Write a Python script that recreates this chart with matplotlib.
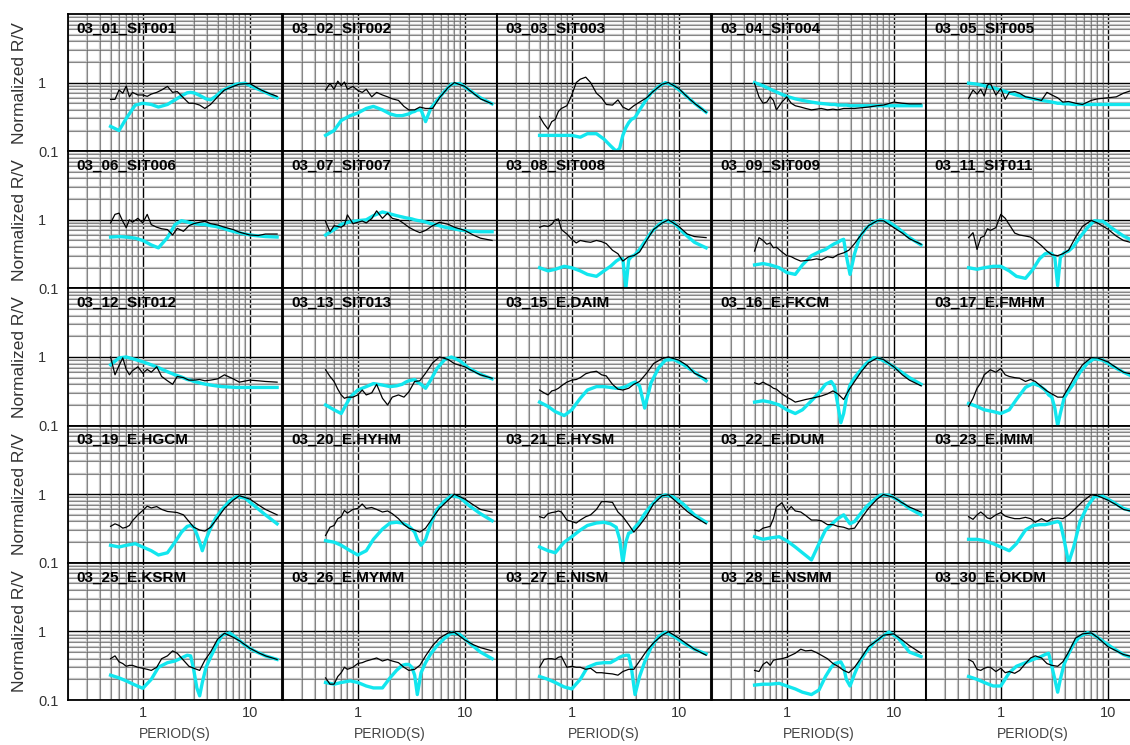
import matplotlib.pyplot as plt
from matplotlib.ticker import NullFormatter

plt.rcParams['font.family'] = ['Liberation Sans', 'DejaVu Sans']

# station names, one panel each (5 per row)
stations = ["03_01_SIT001", "03_02_SIT002", "03_03_SIT003", "03_04_SIT004", "03_05_SIT005",
            "03_06_SIT006", "03_07_SIT007", "03_08_SIT008", "03_09_SIT009", "03_11_SIT011",
            "03_12_SIT012", "03_13_SIT013", "03_15_E.DAIM", "03_16_E.FKCM", "03_17_E.FMHM",
            "03_19_E.HGCM", "03_20_E.HYHM", "03_21_E.HYSM", "03_22_E.IDUM", "03_23_E.IMIM",
            "03_25_E.KSRM", "03_26_E.MYMM", "03_27_E.NISM", "03_28_E.NSMM", "03_30_E.OKDM"]

# periods (s) of the observed R/V (black) and the model R/V (cyan)
period_obs = [0.5, 0.55, 0.6, 0.65, 0.7, 0.75, 0.8, 0.9, 1.0, 1.1, 1.2, 1.35, 1.5, 1.7, 1.9,
              2.1, 2.4, 2.7, 3.0, 3.4, 3.8, 4.3, 5.0, 5.8, 7.0, 8.0, 10, 12, 14, 18]
period_mod = [0.5, 0.6, 0.7, 0.85, 1.0, 1.2, 1.4, 1.7, 2.0, 2.3, 2.6, 2.8, 3.0, 3.2, 3.4,
              3.6, 3.9, 4.3, 4.8, 5.5, 6.5, 7.5, 9, 11, 14, 18]

rv_obs = [
    [0.57, 0.57, 0.78, 0.70, 0.89, 0.62, 0.72, 0.66, 0.66, 0.63, 0.68, 0.72, 0.78, 0.88, 0.72, 0.74, 0.60, 0.50, 0.50, 0.47, 0.42, 0.48, 0.62, 0.78, 0.88, 0.95, 0.97, 0.82, 0.73, 0.63],
    [0.78, 0.97, 0.80, 1.05, 0.90, 1.02, 0.80, 0.88, 0.77, 0.72, 0.80, 0.62, 0.72, 0.66, 0.62, 0.58, 0.55, 0.45, 0.40, 0.40, 0.44, 0.42, 0.42, 0.60, 0.85, 1.00, 0.88, 0.70, 0.58, 0.49],
    [0.32, 0.25, 0.21, 0.27, 0.29, 0.38, 0.42, 0.46, 0.66, 1.00, 1.12, 1.20, 1.00, 0.70, 0.60, 0.48, 0.47, 0.56, 0.44, 0.40, 0.46, 0.52, 0.60, 0.75, 0.95, 1.00, 0.82, 0.62, 0.50, 0.37],
    [0.97, 0.62, 0.50, 0.52, 0.62, 0.55, 0.40, 0.52, 0.62, 0.50, 0.46, 0.44, 0.42, 0.40, 0.41, 0.42, 0.40, 0.41, 0.40, 0.42, 0.42, 0.42, 0.43, 0.44, 0.46, 0.47, 0.52, 0.50, 0.49, 0.49],
    [0.59, 0.78, 0.68, 0.80, 0.64, 0.92, 0.97, 0.66, 0.82, 0.57, 0.72, 0.74, 0.70, 0.62, 0.60, 0.58, 0.55, 0.72, 0.66, 0.60, 0.52, 0.53, 0.50, 0.48, 0.55, 0.58, 0.60, 0.62, 0.70, 0.80],
    [0.90, 1.20, 1.25, 0.95, 0.77, 1.00, 0.92, 1.05, 0.90, 1.20, 0.85, 0.78, 0.74, 0.72, 0.60, 0.75, 0.68, 0.82, 0.88, 0.92, 0.95, 0.88, 0.84, 0.78, 0.72, 0.66, 0.60, 0.59, 0.62, 0.62],
    [0.94, 0.67, 0.82, 0.80, 0.78, 0.84, 1.18, 0.88, 0.92, 0.96, 0.90, 1.04, 1.35, 1.05, 1.25, 1.05, 1.00, 0.88, 0.78, 0.70, 0.65, 0.70, 0.82, 0.92, 0.86, 0.78, 0.70, 0.60, 0.54, 0.50],
    [0.78, 0.82, 0.80, 0.86, 1.00, 1.03, 0.72, 0.62, 0.52, 0.46, 0.50, 0.48, 0.47, 0.50, 0.48, 0.45, 0.36, 0.32, 0.25, 0.29, 0.30, 0.34, 0.50, 0.72, 0.90, 1.00, 0.80, 0.62, 0.57, 0.55],
    [0.35, 0.55, 0.50, 0.44, 0.46, 0.39, 0.40, 0.34, 0.30, 0.29, 0.27, 0.25, 0.255, 0.26, 0.27, 0.26, 0.29, 0.28, 0.31, 0.33, 0.36, 0.45, 0.62, 0.82, 0.97, 0.97, 0.77, 0.64, 0.53, 0.44],
    [0.55, 0.65, 0.37, 0.55, 0.58, 0.74, 0.70, 0.77, 1.20, 1.05, 0.85, 0.64, 0.60, 0.58, 0.56, 0.50, 0.42, 0.35, 0.31, 0.30, 0.32, 0.36, 0.56, 0.80, 0.98, 0.90, 0.73, 0.58, 0.50, 0.45],
    [1.00, 0.55, 0.75, 0.97, 0.66, 0.55, 0.63, 0.72, 0.58, 0.66, 0.60, 0.72, 0.52, 0.45, 0.40, 0.52, 0.50, 0.46, 0.46, 0.47, 0.45, 0.46, 0.48, 0.55, 0.48, 0.43, 0.46, 0.45, 0.44, 0.43],
    [0.65, 0.52, 0.44, 0.34, 0.28, 0.25, 0.26, 0.26, 0.28, 0.33, 0.28, 0.30, 0.40, 0.25, 0.20, 0.26, 0.28, 0.26, 0.31, 0.44, 0.45, 0.58, 0.82, 1.00, 0.92, 0.80, 0.72, 0.62, 0.55, 0.49],
    [0.33, 0.30, 0.28, 0.32, 0.33, 0.35, 0.38, 0.43, 0.46, 0.47, 0.50, 0.57, 0.60, 0.62, 0.55, 0.53, 0.40, 0.34, 0.33, 0.35, 0.40, 0.44, 0.58, 0.80, 0.95, 1.00, 0.90, 0.75, 0.58, 0.48],
    [0.42, 0.40, 0.43, 0.40, 0.38, 0.35, 0.34, 0.29, 0.26, 0.24, 0.22, 0.23, 0.24, 0.25, 0.26, 0.27, 0.29, 0.32, 0.29, 0.24, 0.33, 0.44, 0.62, 0.82, 0.97, 0.92, 0.72, 0.55, 0.46, 0.38],
    [0.19, 0.25, 0.35, 0.42, 0.55, 0.60, 0.65, 0.60, 0.68, 0.55, 0.52, 0.50, 0.49, 0.44, 0.47, 0.44, 0.37, 0.32, 0.29, 0.26, 0.26, 0.36, 0.55, 0.77, 0.98, 0.97, 0.85, 0.70, 0.60, 0.55],
    [0.34, 0.37, 0.35, 0.32, 0.33, 0.35, 0.41, 0.50, 0.58, 0.67, 0.63, 0.66, 0.60, 0.56, 0.55, 0.54, 0.50, 0.40, 0.33, 0.30, 0.29, 0.33, 0.45, 0.62, 0.82, 0.95, 0.85, 0.70, 0.60, 0.50],
    [0.25, 0.33, 0.35, 0.44, 0.47, 0.58, 0.53, 0.60, 0.62, 0.72, 0.62, 0.64, 0.60, 0.55, 0.57, 0.52, 0.44, 0.36, 0.32, 0.30, 0.28, 0.32, 0.45, 0.62, 0.82, 1.00, 0.85, 0.70, 0.60, 0.55],
    [0.47, 0.45, 0.52, 0.54, 0.55, 0.57, 0.55, 0.42, 0.40, 0.38, 0.42, 0.47, 0.50, 0.60, 0.78, 0.78, 0.76, 0.55, 0.47, 0.36, 0.28, 0.35, 0.48, 0.72, 0.95, 0.98, 0.72, 0.56, 0.47, 0.37],
    [0.30, 0.29, 0.32, 0.33, 0.34, 0.44, 0.65, 0.75, 0.56, 0.66, 0.57, 0.55, 0.49, 0.42, 0.42, 0.41, 0.36, 0.36, 0.34, 0.33, 0.31, 0.32, 0.45, 0.62, 0.85, 0.99, 0.90, 0.75, 0.65, 0.55],
    [0.47, 0.43, 0.50, 0.55, 0.50, 0.45, 0.44, 0.50, 0.54, 0.48, 0.46, 0.44, 0.44, 0.46, 0.44, 0.39, 0.44, 0.40, 0.44, 0.45, 0.44, 0.50, 0.62, 0.78, 0.98, 0.95, 0.82, 0.70, 0.60, 0.55],
    [0.40, 0.44, 0.36, 0.34, 0.31, 0.32, 0.32, 0.30, 0.29, 0.28, 0.27, 0.30, 0.40, 0.44, 0.52, 0.48, 0.38, 0.31, 0.29, 0.27, 0.38, 0.50, 0.77, 0.94, 0.82, 0.73, 0.57, 0.49, 0.44, 0.39],
    [0.21, 0.17, 0.17, 0.22, 0.25, 0.30, 0.28, 0.30, 0.34, 0.35, 0.37, 0.39, 0.41, 0.37, 0.39, 0.37, 0.35, 0.30, 0.27, 0.28, 0.32, 0.44, 0.62, 0.80, 0.95, 0.97, 0.75, 0.64, 0.58, 0.52],
    [0.30, 0.39, 0.40, 0.40, 0.39, 0.42, 0.43, 0.30, 0.31, 0.30, 0.30, 0.28, 0.29, 0.25, 0.25, 0.245, 0.24, 0.23, 0.26, 0.28, 0.28, 0.37, 0.52, 0.68, 0.88, 0.99, 0.80, 0.65, 0.55, 0.45],
    [0.27, 0.26, 0.33, 0.36, 0.32, 0.38, 0.39, 0.40, 0.42, 0.45, 0.48, 0.55, 0.52, 0.53, 0.49, 0.45, 0.40, 0.34, 0.31, 0.27, 0.25, 0.30, 0.42, 0.60, 0.74, 0.88, 0.92, 0.75, 0.62, 0.48],
    [0.39, 0.36, 0.28, 0.27, 0.29, 0.30, 0.30, 0.26, 0.29, 0.25, 0.26, 0.245, 0.27, 0.34, 0.41, 0.44, 0.41, 0.34, 0.32, 0.31, 0.36, 0.50, 0.80, 0.92, 0.95, 0.82, 0.60, 0.52, 0.46, 0.42],
]

rv_mod = [
    [0.23, 0.20, 0.30, 0.47, 0.50, 0.48, 0.44, 0.48, 0.56, 0.64, 0.71, 0.72, 0.71, 0.68, 0.65, 0.62, 0.58, 0.56, 0.63, 0.76, 0.86, 0.95, 0.98, 0.85, 0.72, 0.60],
    [0.17, 0.20, 0.28, 0.33, 0.36, 0.42, 0.45, 0.40, 0.35, 0.33, 0.33, 0.34, 0.35, 0.37, 0.38, 0.40, 0.40, 0.27, 0.42, 0.55, 0.75, 0.95, 0.97, 0.78, 0.60, 0.49],
    [0.17, 0.17, 0.17, 0.17, 0.17, 0.16, 0.18, 0.18, 0.15, 0.12, 0.10, 0.11, 0.17, 0.22, 0.26, 0.29, 0.31, 0.40, 0.52, 0.70, 0.88, 1.00, 0.90, 0.70, 0.50, 0.37],
    [1.00, 0.90, 0.80, 0.70, 0.63, 0.58, 0.55, 0.52, 0.50, 0.49, 0.48, 0.48, 0.47, 0.47, 0.47, 0.47, 0.46, 0.46, 0.46, 0.46, 0.46, 0.46, 0.46, 0.46, 0.46, 0.46],
    [0.98, 0.95, 0.90, 0.84, 0.78, 0.71, 0.66, 0.61, 0.58, 0.56, 0.54, 0.53, 0.52, 0.51, 0.50, 0.50, 0.49, 0.49, 0.48, 0.48, 0.48, 0.48, 0.48, 0.48, 0.48, 0.48],
    [0.56, 0.57, 0.56, 0.54, 0.50, 0.43, 0.39, 0.55, 0.85, 0.97, 0.93, 0.90, 0.88, 0.87, 0.86, 0.86, 0.85, 0.82, 0.80, 0.76, 0.70, 0.66, 0.62, 0.59, 0.57, 0.56],
    [0.60, 0.72, 0.86, 0.94, 0.97, 1.00, 1.15, 1.30, 1.22, 1.15, 1.10, 1.07, 1.05, 1.03, 1.00, 0.98, 0.96, 0.93, 0.88, 0.84, 0.78, 0.75, 0.71, 0.68, 0.67, 0.67],
    [0.20, 0.18, 0.19, 0.21, 0.20, 0.18, 0.16, 0.15, 0.18, 0.21, 0.25, 0.27, 0.27, 0.10, 0.26, 0.29, 0.31, 0.37, 0.48, 0.65, 0.85, 0.98, 0.90, 0.65, 0.47, 0.39],
    [0.22, 0.23, 0.22, 0.20, 0.17, 0.16, 0.22, 0.30, 0.34, 0.37, 0.42, 0.45, 0.47, 0.50, 0.52, 0.30, 0.16, 0.32, 0.56, 0.75, 0.92, 1.00, 0.93, 0.75, 0.55, 0.43],
    [0.20, 0.19, 0.20, 0.21, 0.21, 0.18, 0.15, 0.14, 0.19, 0.27, 0.32, 0.33, 0.32, 0.28, 0.11, 0.28, 0.33, 0.35, 0.41, 0.56, 0.78, 0.97, 0.95, 0.75, 0.58, 0.48],
    [0.77, 0.97, 1.00, 0.92, 0.85, 0.77, 0.70, 0.61, 0.55, 0.51, 0.47, 0.46, 0.44, 0.43, 0.42, 0.41, 0.40, 0.39, 0.38, 0.37, 0.365, 0.36, 0.36, 0.36, 0.36, 0.36],
    [0.20, 0.17, 0.15, 0.26, 0.33, 0.37, 0.41, 0.39, 0.37, 0.38, 0.40, 0.43, 0.45, 0.46, 0.47, 0.43, 0.40, 0.35, 0.46, 0.68, 0.92, 1.00, 0.88, 0.68, 0.56, 0.48],
    [0.22, 0.19, 0.16, 0.14, 0.17, 0.25, 0.33, 0.37, 0.37, 0.36, 0.35, 0.35, 0.36, 0.37, 0.39, 0.41, 0.43, 0.38, 0.18, 0.42, 0.70, 0.90, 0.92, 0.78, 0.60, 0.45],
    [0.22, 0.23, 0.22, 0.20, 0.17, 0.15, 0.17, 0.23, 0.30, 0.40, 0.44, 0.37, 0.20, 0.11, 0.15, 0.25, 0.39, 0.50, 0.62, 0.80, 0.98, 0.93, 0.80, 0.65, 0.50, 0.40],
    [0.21, 0.19, 0.17, 0.16, 0.15, 0.17, 0.24, 0.36, 0.41, 0.38, 0.33, 0.28, 0.26, 0.18, 0.10, 0.15, 0.25, 0.32, 0.41, 0.60, 0.82, 0.95, 0.90, 0.74, 0.60, 0.50],
    [0.18, 0.17, 0.18, 0.19, 0.17, 0.15, 0.13, 0.14, 0.20, 0.28, 0.34, 0.35, 0.33, 0.26, 0.20, 0.15, 0.22, 0.32, 0.45, 0.60, 0.80, 0.92, 0.88, 0.68, 0.50, 0.37],
    [0.21, 0.20, 0.18, 0.15, 0.13, 0.15, 0.22, 0.31, 0.38, 0.39, 0.38, 0.36, 0.34, 0.31, 0.28, 0.22, 0.18, 0.22, 0.37, 0.60, 0.80, 0.95, 0.90, 0.68, 0.52, 0.41],
    [0.17, 0.15, 0.14, 0.20, 0.24, 0.30, 0.35, 0.38, 0.39, 0.37, 0.33, 0.22, 0.10, 0.20, 0.27, 0.28, 0.33, 0.39, 0.52, 0.68, 0.90, 0.98, 0.90, 0.72, 0.50, 0.39],
    [0.24, 0.22, 0.23, 0.24, 0.21, 0.17, 0.14, 0.11, 0.19, 0.30, 0.36, 0.40, 0.44, 0.47, 0.50, 0.44, 0.37, 0.40, 0.50, 0.65, 0.82, 0.97, 0.97, 0.82, 0.62, 0.50],
    [0.22, 0.22, 0.21, 0.19, 0.17, 0.15, 0.19, 0.30, 0.35, 0.36, 0.36, 0.37, 0.38, 0.39, 0.40, 0.38, 0.22, 0.10, 0.17, 0.40, 0.68, 0.92, 0.93, 0.78, 0.62, 0.55],
    [0.23, 0.21, 0.19, 0.165, 0.148, 0.20, 0.30, 0.35, 0.37, 0.41, 0.45, 0.44, 0.27, 0.15, 0.115, 0.18, 0.30, 0.42, 0.60, 0.88, 0.95, 0.80, 0.63, 0.52, 0.44, 0.39],
    [0.18, 0.17, 0.18, 0.19, 0.18, 0.16, 0.15, 0.15, 0.21, 0.27, 0.32, 0.33, 0.33, 0.30, 0.23, 0.12, 0.25, 0.35, 0.47, 0.62, 0.80, 0.95, 0.90, 0.68, 0.50, 0.40],
    [0.22, 0.20, 0.18, 0.155, 0.145, 0.20, 0.30, 0.34, 0.35, 0.35, 0.39, 0.42, 0.44, 0.45, 0.45, 0.30, 0.12, 0.22, 0.36, 0.58, 0.85, 0.97, 0.85, 0.68, 0.55, 0.47],
    [0.165, 0.17, 0.17, 0.175, 0.16, 0.145, 0.13, 0.12, 0.14, 0.22, 0.30, 0.34, 0.35, 0.36, 0.30, 0.20, 0.16, 0.24, 0.36, 0.50, 0.68, 0.80, 0.98, 0.80, 0.50, 0.43],
    [0.22, 0.20, 0.18, 0.16, 0.16, 0.25, 0.31, 0.35, 0.39, 0.42, 0.46, 0.48, 0.31, 0.20, 0.13, 0.20, 0.33, 0.47, 0.66, 0.85, 0.96, 0.88, 0.72, 0.58, 0.46, 0.40],
]

W, H = 1130, 745
fig = plt.figure(figsize=(W / 100, H / 100), dpi=100)

# panel layout in pixels (last column runs off the right edge like the original)
col_left = [68, 283, 497, 712, 926]
panel_w, panel_h = 214, 137.2
top0 = 14
ncol = 5
nrow = len(stations) // ncol

for i, name in enumerate(stations):
    r, c = divmod(i, ncol)
    top = top0 + r * panel_h
    ax = fig.add_axes([col_left[c] / W, 1 - (top + panel_h) / H, panel_w / W, panel_h / H])
    ax.set_xscale('log')
    ax.set_yscale('log')
    ax.set_xlim(0.2, 20)
    ax.set_ylim(0.1, 10)

    # grid: light grey band + thin dark line on minor, black on major
    ax.grid(True, which='major', color='black', lw=1.0)
    ax.grid(True, which='minor', color='#c4c4c4', lw=1.6)
    for xv in ax.xaxis.get_minorticklocs():
        ax.axvline(xv, color='#555555', lw=0.4, zorder=1.6)
    for yv in ax.yaxis.get_minorticklocs():
        ax.axhline(yv, color='#555555', lw=0.4, zorder=1.6)

    ax.plot(period_mod, rv_mod[i], color='#12e6ee', lw=2.4, zorder=3)
    ax.plot(period_obs, rv_obs[i], color='black', lw=0.9, zorder=4)

    ax.text(0.037, 0.945, name, transform=ax.transAxes, ha='left', va='top',
            fontsize=11, fontweight='bold', color='black', zorder=5)

    for s in ax.spines.values():
        s.set_linewidth(1.3)
        s.set_color('black')

    ax.set_xticks([1, 10])
    ax.set_yticks([0.1, 1])
    ax.xaxis.set_minor_formatter(NullFormatter())
    ax.yaxis.set_minor_formatter(NullFormatter())
    ax.tick_params(which='both', length=0, labelsize=10.5, labelcolor='#333333')

    if r == nrow - 1:
        ax.set_xticklabels(['1', '10'])
        ax.tick_params(axis='x', pad=4.5)
        ax.set_xlabel('PERIOD(S)', fontsize=10, color='#444444', labelpad=5)
    else:
        ax.tick_params(axis='x', labelbottom=False)

    if c == 0:
        ax.set_yticklabels(['0.1', '1'])
        for lab in ax.get_yticklabels():
            lab.set_horizontalalignment('left')
        ax.tick_params(axis='y', pad=21.6)
        fig.text(20 / W, 1 - (top + panel_h / 2) / H, 'Normalized R/V', rotation=90,
                 ha='center', va='center', fontsize=12.5, color='#333333')
    else:
        ax.tick_params(axis='y', labelleft=False)

fig.savefig('out.png', dpi=100)
